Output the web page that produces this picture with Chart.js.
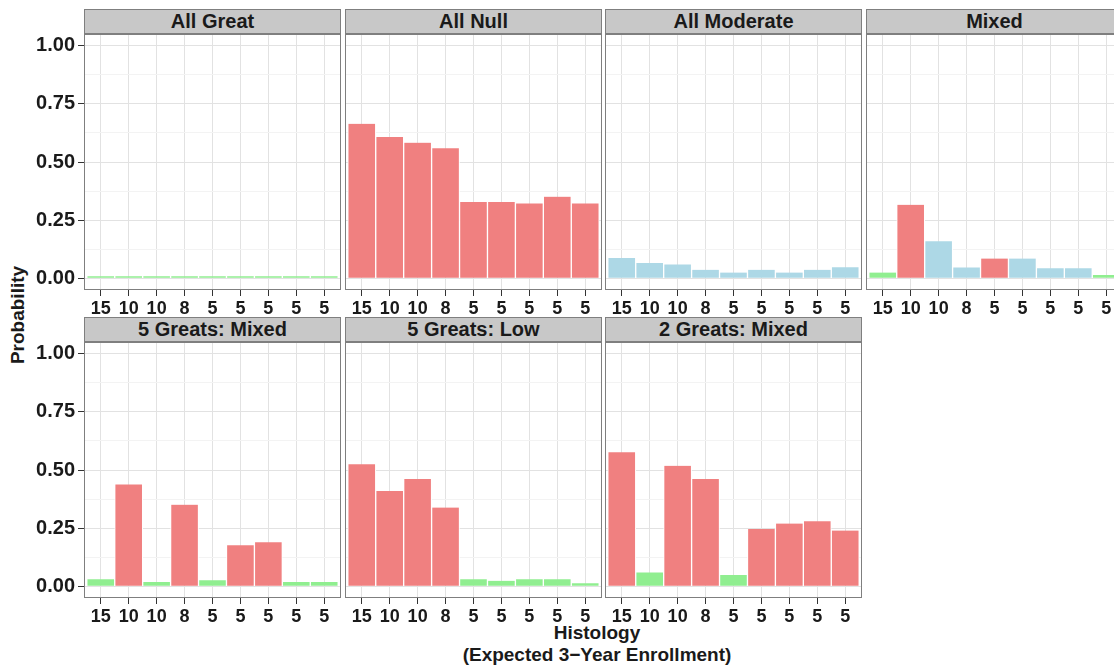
<!DOCTYPE html>
<html>
<head>
<meta charset="utf-8">
<script src="https://cdn.jsdelivr.net/npm/chart.js@4"></script>
<style>
    html, body { margin: 0; padding: 0; background: #fff; }
    body { width: 1114px; height: 666px; overflow: hidden; position: relative; font-family: "Liberation Sans", Arial, sans-serif; color: #1a1a1a; }
    .strip { position: absolute; box-sizing: border-box; height: 25px; background: #c8c8c8; border: 1px solid #7f7f7f; text-align: center; font-size: 20px; font-weight: bold; line-height: 23px; }
    .panel { position: absolute; }
    .title { position: absolute; transform: translate(-50%, -50%); font-size: 19px; font-weight: bold; white-space: nowrap; }
</style>
</head>
<body>
<div class="title" style="left:18px; top:315px; transform: translate(-50%, -50%) rotate(-90deg);">Probability</div>
<div class="title" style="left:597px; top:633px;">Histology</div>
<div class="title" style="left:597px; top:655px;">(Expected 3−Year Enrollment)</div>

<script>
// Data
const histologyLabels = ['15', '10', '10', '8', '5', '5', '5', '5', '5'];
const panelTitles = ['All Great', 'All Null', 'All Moderate', 'Mixed', '5 Greats: Mixed', '5 Greats: Low', '2 Greats: Mixed'];

const allGreat = [0.009, 0.009, 0.009, 0.009, 0.009, 0.009, 0.009, 0.009, 0.009];
const allNull = [0.664, 0.607, 0.583, 0.559, 0.328, 0.328, 0.322, 0.351, 0.322];
const allModerate = [0.088, 0.066, 0.060, 0.037, 0.025, 0.037, 0.025, 0.037, 0.048];
const mixed = [0.025, 0.316, 0.160, 0.047, 0.085, 0.085, 0.043, 0.043, 0.014];
const fiveGreatsMixed = [0.031, 0.438, 0.019, 0.351, 0.026, 0.177, 0.190, 0.019, 0.019];
const fiveGreatsLow = [0.525, 0.410, 0.461, 0.339, 0.031, 0.024, 0.031, 0.031, 0.013];
const twoGreatsMixed = [0.576, 0.060, 0.518, 0.461, 0.049, 0.246, 0.270, 0.280, 0.240];

// effect type of each bar
const allGreatEffect = ['great', 'great', 'great', 'great', 'great', 'great', 'great', 'great', 'great'];
const allNullEffect = ['null', 'null', 'null', 'null', 'null', 'null', 'null', 'null', 'null'];
const allModerateEffect = ['moderate', 'moderate', 'moderate', 'moderate', 'moderate', 'moderate', 'moderate', 'moderate', 'moderate'];
const mixedEffect = ['great', 'null', 'moderate', 'moderate', 'null', 'moderate', 'moderate', 'moderate', 'great'];
const fiveGreatsMixedEffect = ['great', 'null', 'great', 'null', 'great', 'null', 'null', 'great', 'great'];
const fiveGreatsLowEffect = ['null', 'null', 'null', 'null', 'great', 'great', 'great', 'great', 'great'];
const twoGreatsMixedEffect = ['null', 'great', 'null', 'null', 'great', 'null', 'null', 'null', 'null'];

const yTicks = [0, 0.125, 0.25, 0.375, 0.5, 0.625, 0.75, 0.875, 1];

// Styles
const effectColors = { null: '#f08080', great: '#90ee90', moderate: '#add8e6' };
const colLefts = [84, 345, 605, 866];
const stripTops = [9, 317];
const plotTops = [34, 342];
const panelW = 257;
const plotH = 256;
const xAxisH = 40;
const yAxisW = 84;
const pad = 20;

const panels = [
    { values: allGreat, effects: allGreatEffect },
    { values: allNull, effects: allNullEffect },
    { values: allModerate, effects: allModerateEffect },
    { values: mixed, effects: mixedEffect },
    { values: fiveGreatsMixed, effects: fiveGreatsMixedEffect },
    { values: fiveGreatsLow, effects: fiveGreatsLowEffect },
    { values: twoGreatsMixed, effects: twoGreatsMixedEffect }
];

// panel border on top of the bars
const borderPlugin = {
    id: 'panelBorder',
    afterDatasetsDraw(chart) {
        const a = chart.chartArea;
        const ctx = chart.ctx;
        ctx.save();
        ctx.strokeStyle = '#7f7f7f';
        ctx.lineWidth = 1;
        ctx.strokeRect(Math.round(a.left) + 0.5, Math.round(a.top) + 0.5, Math.round(a.right - a.left) - 1, Math.round(a.bottom - a.top) - 1);
        ctx.restore();
    }
};

const xTickFont = { family: '"Liberation Sans", Arial, sans-serif', size: 18, weight: 'bold' };
const yTickFont = { family: '"Liberation Sans", Arial, sans-serif', size: 20, weight: 'bold' };

panels.forEach((p, i) => {
    const row = Math.floor(i / 4);
    const col = i % 4;
    const axW = col === 0 ? yAxisW : 0;

    const strip = document.createElement('div');
    strip.className = 'strip';
    strip.style.left = colLefts[col] + 'px';
    strip.style.top = stripTops[row] + 'px';
    strip.style.width = panelW + 'px';
    strip.innerText = panelTitles[i];
    document.body.appendChild(strip);

    const canvas = document.createElement('canvas');
    canvas.className = 'panel';
    canvas.width = panelW + axW + 2 * pad;
    canvas.height = plotH + xAxisH + 2 * pad;
    canvas.style.left = (colLefts[col] - axW - pad) + 'px';
    canvas.style.top = (plotTops[row] - pad) + 'px';
    document.body.appendChild(canvas);

    new Chart(canvas.getContext('2d'), {
        type: 'bar',
        data: {
            datasets: [{
                data: p.values.map((v, k) => ({ x: k + 1, y: v })),
                backgroundColor: p.effects.map(e => effectColors[e]),
                borderColor: '#ffffff',
                borderWidth: { left: 1, right: 1, top: 0, bottom: 0 },
                borderSkipped: false,
                barPercentage: 1,
                categoryPercentage: 1
            }]
        },
        options: {
            responsive: false,
            animation: false,
            devicePixelRatio: 1,
            layout: { padding: pad },
            plugins: { legend: { display: false }, tooltip: { enabled: false } },
            scales: {
                x: {
                    type: 'linear',
                    offset: false,
                    min: 0.4,
                    max: 9.6,
                    afterBuildTicks: s => { s.ticks = histologyLabels.map((_, k) => ({ value: k + 1 })); },
                    afterFit: s => { s.height = xAxisH; },
                    border: { display: false },
                    grid: { offset: false, color: '#e2e2e2', tickColor: '#333', tickLength: 6, lineWidth: 1 },
                    ticks: {
                        autoSkip: false,
                        maxRotation: 0,
                        padding: 2,
                        color: '#1a1a1a',
                        font: xTickFont,
                        callback: (v, k) => histologyLabels[k]
                    }
                },
                y: {
                    min: -0.05,
                    max: 1.05,
                    afterBuildTicks: s => { s.ticks = yTicks.map(v => ({ value: v })); },
                    afterFit: s => { s.width = axW; },
                    border: { display: false },
                    grid: {
                        color: c => c.index % 2 ? '#f3f3f3' : '#e2e2e2',
                        tickColor: c => c.index % 2 ? 'rgba(0,0,0,0)' : '#333',
                        drawTicks: col === 0,
                        tickLength: 6,
                        lineWidth: 1
                    },
                    ticks: {
                        display: col === 0,
                        padding: 3,
                        color: '#1a1a1a',
                        font: yTickFont,
                        callback: (v, k) => k % 2 ? '' : v.toFixed(2)
                    }
                }
            }
        },
        plugins: [borderPlugin]
    });
});
</script>
</body>
</html>
